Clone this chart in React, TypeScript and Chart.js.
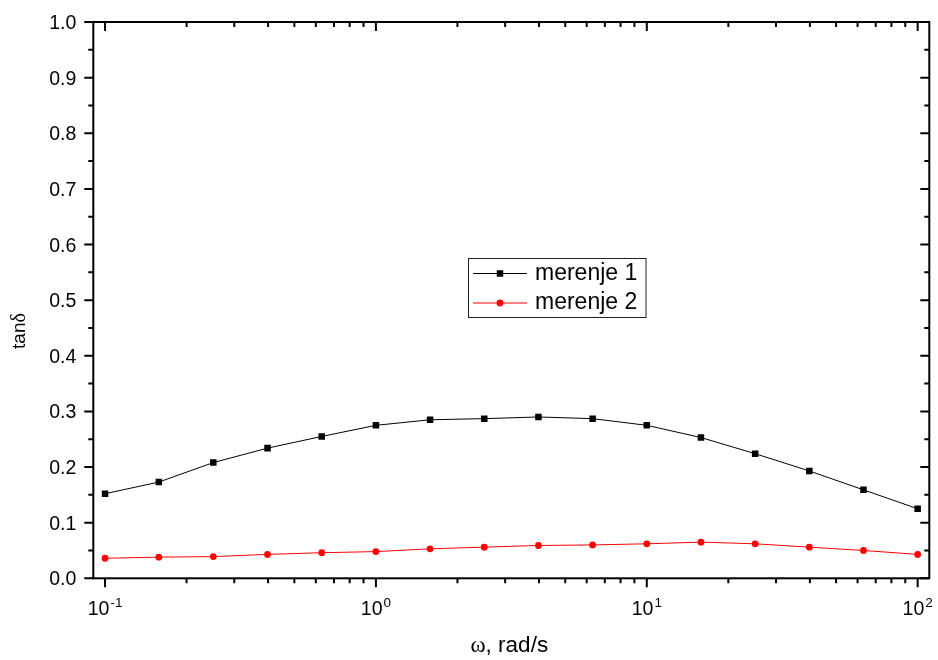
import React, { useEffect, useRef } from "react";
import { Chart, registerables } from "chart.js";

Chart.register(...registerables);

// Angular frequency, rad/s
const omega = [0.1, 0.158, 0.251, 0.398, 0.631, 1, 1.585, 2.512, 3.981, 6.31, 10, 15.85, 25.12, 39.81, 63.1, 100];
// Loss tangent, two measurement runs
const merenje1 = [0.152, 0.173, 0.208, 0.234, 0.255, 0.275, 0.285, 0.287, 0.29, 0.287, 0.275, 0.253, 0.224, 0.193, 0.159, 0.125];
const merenje2 = [0.036, 0.038, 0.039, 0.043, 0.046, 0.048, 0.053, 0.056, 0.059, 0.06, 0.062, 0.065, 0.062, 0.056, 0.05, 0.043];

const seriesNames = ["merenje 1", "merenje 2"];
const yTickValues = [0, 0.1, 0.2, 0.3, 0.4, 0.5, 0.6, 0.7, 0.8, 0.9, 1.0];
const xDecadeExponents = [-1, 0, 1, 2];
const xTitleSymbol = "ω";
const xTitleRest = ", rad/s";
const yTitleRest = "tan";
const yTitleSymbol = "δ";

const SANS = '"Liberation Sans", Arial, sans-serif';
const SERIF = '"Liberation Serif", "Times New Roman", serif';

const framePlugin = {
  id: "originFrame",
  afterDraw(chart: any) {
    const { ctx, chartArea: a, scales } = chart;
    const xs = scales.x;
    const ys = scales.y;
    ctx.save();
    ctx.strokeStyle = "#000";
    ctx.fillStyle = "#000";
    ctx.lineWidth = 2;
    ctx.lineCap = "butt";

    // plot frame
    ctx.strokeRect(a.left, a.top, a.right - a.left, a.bottom - a.top);

    const MAJ = 9;
    const MIN = 5;

    // y ticks: major every 0.1, minor halfway between
    for (let i = 0; i < yTickValues.length; i++) {
      const v = yTickValues[i];
      const py = ys.getPixelForValue(v);
      ctx.beginPath();
      ctx.moveTo(a.left - MAJ, py);
      ctx.lineTo(a.left, py);
      ctx.moveTo(a.right - MAJ, py);
      ctx.lineTo(a.right, py);
      ctx.stroke();
      if (i < yTickValues.length - 1) {
        const mv = (v + yTickValues[i + 1]) / 2;
        const pm = ys.getPixelForValue(mv);
        ctx.beginPath();
        ctx.moveTo(a.left - MIN, pm);
        ctx.lineTo(a.left, pm);
        ctx.moveTo(a.right - MIN, pm);
        ctx.lineTo(a.right, pm);
        ctx.stroke();
      }
    }

    // y tick labels
    ctx.font = `19.5px ${SANS}`;
    ctx.textAlign = "right";
    ctx.textBaseline = "alphabetic";
    for (const v of yTickValues) {
      const py = ys.getPixelForValue(v);
      ctx.fillText(v.toFixed(1), a.left - 17, py + 7);
    }

    // x ticks: decades plus 2..9 minors
    for (let e = xDecadeExponents[0] - 1; e <= xDecadeExponents[xDecadeExponents.length - 1]; e++) {
      for (let m = 1; m <= 9; m++) {
        const v = m * Math.pow(10, e);
        if (v < xs.min || v > xs.max) continue;
        const px = xs.getPixelForValue(v);
        const len = m === 1 ? MAJ : MIN;
        ctx.beginPath();
        ctx.moveTo(px, a.bottom);
        ctx.lineTo(px, a.bottom + len);
        ctx.moveTo(px, a.top);
        ctx.lineTo(px, a.top + len);
        ctx.stroke();
      }
    }

    // x tick labels: 10 with superscript exponent
    for (const e of xDecadeExponents) {
      const px = xs.getPixelForValue(Math.pow(10, e));
      ctx.font = `19.5px ${SANS}`;
      const base = "10";
      const bw = ctx.measureText(base).width;
      ctx.font = `13.5px ${SANS}`;
      const sup = String(e);
      const sw = ctx.measureText(sup).width;
      const total = bw + 1 + sw;
      const x0 = px - total / 2;
      const baseY = a.bottom + 37;
      ctx.textAlign = "left";
      ctx.font = `19.5px ${SANS}`;
      ctx.fillText(base, x0, baseY);
      ctx.font = `13.5px ${SANS}`;
      ctx.fillText(sup, x0 + bw + 1, baseY - 8);
    }

    // x axis title
    {
      ctx.font = `23px ${SERIF}`;
      const w1 = ctx.measureText(xTitleSymbol).width;
      ctx.font = `22.5px ${SANS}`;
      const w2 = ctx.measureText(xTitleRest).width;
      const cx = (a.left + a.right) / 2 - 2;
      const x0 = cx - (w1 + w2) / 2;
      const by = a.bottom + 74;
      ctx.textAlign = "left";
      ctx.font = `23px ${SERIF}`;
      ctx.fillText(xTitleSymbol, x0, by);
      ctx.font = `22.5px ${SANS}`;
      ctx.fillText(xTitleRest, x0 + w1, by);
    }

    // y axis title, rotated
    {
      ctx.save();
      ctx.translate(25, 331);
      ctx.rotate(-Math.PI / 2);
      ctx.font = `19px ${SANS}`;
      const w1 = ctx.measureText(yTitleRest).width;
      ctx.font = `20px ${SERIF}`;
      const w2 = ctx.measureText(yTitleSymbol).width;
      const x0 = -(w1 + w2) / 2;
      ctx.textAlign = "left";
      ctx.font = `19px ${SANS}`;
      ctx.fillText(yTitleRest, x0, 0);
      ctx.font = `20px ${SERIF}`;
      ctx.fillText(yTitleSymbol, x0 + w1, 0);
      ctx.restore();
    }

    // legend box
    {
      const bx = 468.5;
      const by = 258.5;
      const bw = 177.5;
      const bh = 59;
      ctx.fillStyle = "#fff";
      ctx.fillRect(bx, by, bw, bh);
      ctx.lineWidth = 1;
      ctx.strokeStyle = "#222";
      ctx.strokeRect(bx, by, bw, bh);
      const rows = [273.5, 303];
      chart.data.datasets.forEach((ds: any, i: number) => {
        const ry = rows[i];
        ctx.strokeStyle = ds.borderColor;
        ctx.lineWidth = 1;
        ctx.beginPath();
        ctx.moveTo(473, ry);
        ctx.lineTo(527, ry);
        ctx.stroke();
        ctx.fillStyle = ds.pointBackgroundColor;
        if (ds.pointStyle === "rect") {
          ctx.fillRect(500 - 3.25, ry - 3.25, 6.5, 6.5);
        } else {
          ctx.beginPath();
          ctx.arc(500, ry, 3.4, 0, Math.PI * 2);
          ctx.fill();
        }
        ctx.fillStyle = "#000";
        ctx.font = `23px ${SANS}`;
        ctx.textAlign = "left";
        ctx.textBaseline = "alphabetic";
        ctx.fillText(ds.label, 535, ry + 6.3);
      });
    }

    ctx.restore();
  },
};

export default function App() {
  const ref = useRef<HTMLCanvasElement | null>(null);

  useEffect(() => {
    if (!ref.current) return;
    const chart = new Chart(ref.current, {
      type: "line",
      data: {
        datasets: [
          {
            label: seriesNames[0],
            data: omega.map((w, i) => ({ x: w, y: merenje1[i] })),
            borderColor: "#000000",
            backgroundColor: "#000000",
            pointBackgroundColor: "#000000",
            borderWidth: 1,
            pointStyle: "rect",
            pointRadius: 4.6,
            pointBorderWidth: 0,
            pointHoverRadius: 4.6,
            tension: 0,
          },
          {
            label: seriesNames[1],
            data: omega.map((w, i) => ({ x: w, y: merenje2[i] })),
            borderColor: "#ff0000",
            backgroundColor: "#ff0000",
            pointBackgroundColor: "#ff0000",
            borderWidth: 1,
            pointStyle: "circle",
            pointRadius: 3.4,
            pointBorderWidth: 0,
            pointHoverRadius: 3.4,
            tension: 0,
          },
        ],
      },
      options: {
        animation: false,
        responsive: false,
        devicePixelRatio: 1,
        layout: { padding: { left: 93.3, right: 8.7, top: 22, bottom: 81.7 } },
        plugins: { legend: { display: false }, tooltip: { enabled: false } },
        events: [],
        scales: {
          x: { type: "logarithmic", min: 0.0905, max: 110.4, display: false },
          y: { type: "linear", min: 0, max: 1, display: false },
        },
      },
      plugins: [framePlugin],
    });
    return () => chart.destroy();
  }, []);

  return (
    <div style={{ position: "absolute", left: 0, top: 0, width: 938, height: 660, background: "#fff" }}>
      <canvas ref={ref} width={938} height={660} />
    </div>
  );
}
